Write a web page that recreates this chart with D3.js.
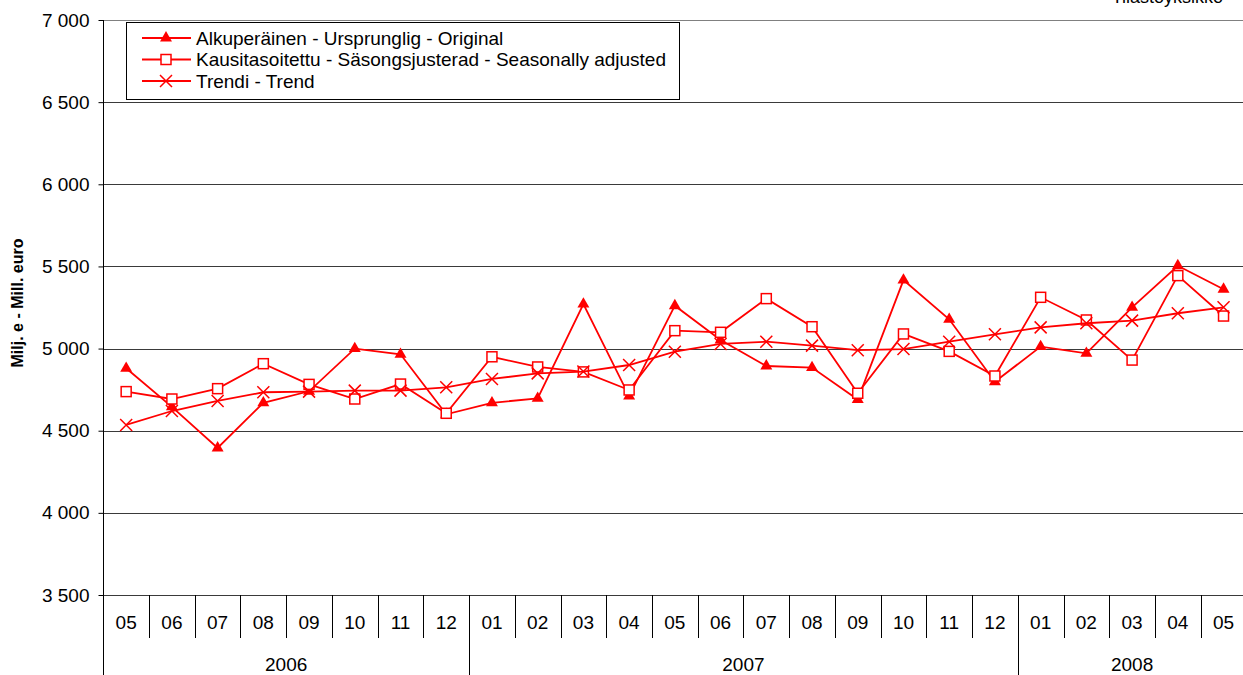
<!DOCTYPE html>
<html><head><meta charset="utf-8">
<script src="https://cdn.jsdelivr.net/npm/d3@7"></script>
<style>body{margin:0;background:#fff}svg{display:block;font-family:"Liberation Sans",Arial,sans-serif}</style>
</head><body><svg id="c" width="1243" height="675"></svg>
<script>
const months = ["05","06","07","08","09","10","11","12","01","02","03","04","05","06","07","08","09","10","11","12","01","02","03","04","05"];
const years = ["2006","2007","2008"];
const yearCounts = [8,12,5];
const original = [4880,4645,4395,4670,4740,5000,4965,4600,4670,4697,5271,4711,5261,5052,4894,4884,4690,5417,5178,4798,5012,4971,5251,5504,5361];
const seasonal = [4738,4693,4756,4908,4782,4693,4784,4606,4950,4888,4858,4748,5109,5099,5304,5133,4728,5089,4983,4833,5312,5174,4930,5444,5198];
const trend = [4535,4620,4681,4734,4738,4744,4744,4764,4815,4849,4860,4900,4981,5028,5042,5018,4990,4997,5042,5087,5129,5154,5170,5215,5251];
const yTicks = [3500,4000,4500,5000,5500,6000,6500,7000];
const seriesNames = ["Alkuperäinen - Ursprunglig - Original","Kausitasoitettu - Säsongsjusterad - Seasonally adjusted","Trendi - Trend"];

const RED = "#ff0000";
const FS = 19;
const svg = d3.select("#c");
const L = 103.3, R = 1246.4, T = 20, B = 595;
const idx = months.map((m,i)=>i);
const x = d3.scaleBand().domain(idx).range([L,R]);
const y = d3.scaleLinear().domain([3500,7000]).range([B,T]);
const fmt = v => d3.format(",")(v).replace(",", " ");

// gridlines
svg.append("g").selectAll("line").data(yTicks).join("line")
  .attr("x1",L).attr("x2",R).attr("y1",d=>Math.round(y(d))+0.5).attr("y2",d=>Math.round(y(d))+0.5)
  .attr("stroke",d=>d===7000?"#808080":"#3a3a3a").attr("stroke-width",1);

// y axis
const yAxis = d3.axisLeft(y).tickValues(yTicks).tickSize(5).tickPadding(9).tickFormat(fmt);
const yg = svg.append("g").attr("transform",`translate(${Math.round(L)+0.5},0)`).call(yAxis);
yg.select(".domain").remove();
yg.selectAll(".tick line").attr("stroke","#000");
yg.selectAll(".tick text").attr("font-size",FS).attr("fill","#000").attr("font-family","Liberation Sans, Arial, sans-serif");
svg.append("line").attr("x1",Math.round(L)+0.5).attr("x2",Math.round(L)+0.5).attr("y1",T).attr("y2",675).attr("stroke","#000");

// x category axis
svg.append("g").selectAll("line").data(idx.slice(1)).join("line")
  .attr("x1",d=>Math.round(x(d))+0.5).attr("x2",d=>Math.round(x(d))+0.5)
  .attr("y1",B).attr("y2",638).attr("stroke","#000");
svg.append("g").selectAll("text").data(idx).join("text")
  .attr("x",d=>x(d)+x.bandwidth()/2).attr("y",629).attr("text-anchor","middle")
  .attr("font-size",FS).text(d=>months[d]);
// year groups
let start = 0;
years.forEach((yr,k)=>{
  const s = start, e = start + yearCounts[k];
  const x0 = x(s), x1 = e < months.length ? x(e) : R;
  if (k>0) svg.append("line").attr("x1",Math.round(x0)+0.5).attr("x2",Math.round(x0)+0.5).attr("y1",B).attr("y2",675).attr("stroke","#000");
  svg.append("text").attr("x",(x0+x1)/2).attr("y",671).attr("text-anchor","middle").attr("font-size",FS).text(yr);
  start = e;
});

// axis title
svg.append("text").attr("transform","translate(23,303) rotate(-90)").attr("text-anchor","middle")
  .attr("font-size",16).attr("font-weight","bold").text("Milj. e - Mill. euro");

// source text (clipped at top, as in the original)
svg.append("text").attr("x",1223).attr("y",3).attr("text-anchor","end").attr("font-size",18).text("Tilastoyksikkö");

const cx = i => x(i)+x.bandwidth()/2;
const line = d3.line().x((d,i)=>cx(i)).y(d=>y(d));
const tri = d3.symbol().type(d3.symbolTriangle).size(62);

function drawTri(g,px,py){ g.append("path").attr("d",tri()).attr("transform",`translate(${px},${py})`).attr("fill",RED); }
function drawSq(g,px,py){ g.append("rect").attr("x",px-5).attr("y",py-5).attr("width",10).attr("height",10).attr("fill","#fff").attr("stroke",RED).attr("stroke-width",1.5); }
function drawX(g,px,py){ g.append("path").attr("d",`M${px-6},${py-6}L${px+6},${py+6}M${px-6},${py+6}L${px+6},${py-6}`).attr("stroke",RED).attr("stroke-width",1.5); }

const series = [[original,drawTri],[seasonal,drawSq],[trend,drawX]];
series.forEach(([vals,mk])=>{
  const g = svg.append("g");
  g.append("path").attr("d",line(vals)).attr("fill","none").attr("stroke",RED).attr("stroke-width",1.8);
  vals.forEach((v,i)=>mk(g,cx(i),y(v)));
});

// legend
const lg = svg.append("g");
lg.append("rect").attr("x",126.5).attr("y",22.5).attr("width",553).attr("height",77).attr("fill","#fff").attr("stroke","#000");
seriesNames.forEach((n,k)=>{
  const ry = 38 + k*21.5;
  lg.append("line").attr("x1",142).attr("x2",191).attr("y1",ry).attr("y2",ry).attr("stroke",RED).attr("stroke-width",1.8);
  series[k][1](lg,166,ry);
  lg.append("text").attr("x",196).attr("y",ry+6.8).attr("font-size",FS).text(n);
});
</script></body></html>
